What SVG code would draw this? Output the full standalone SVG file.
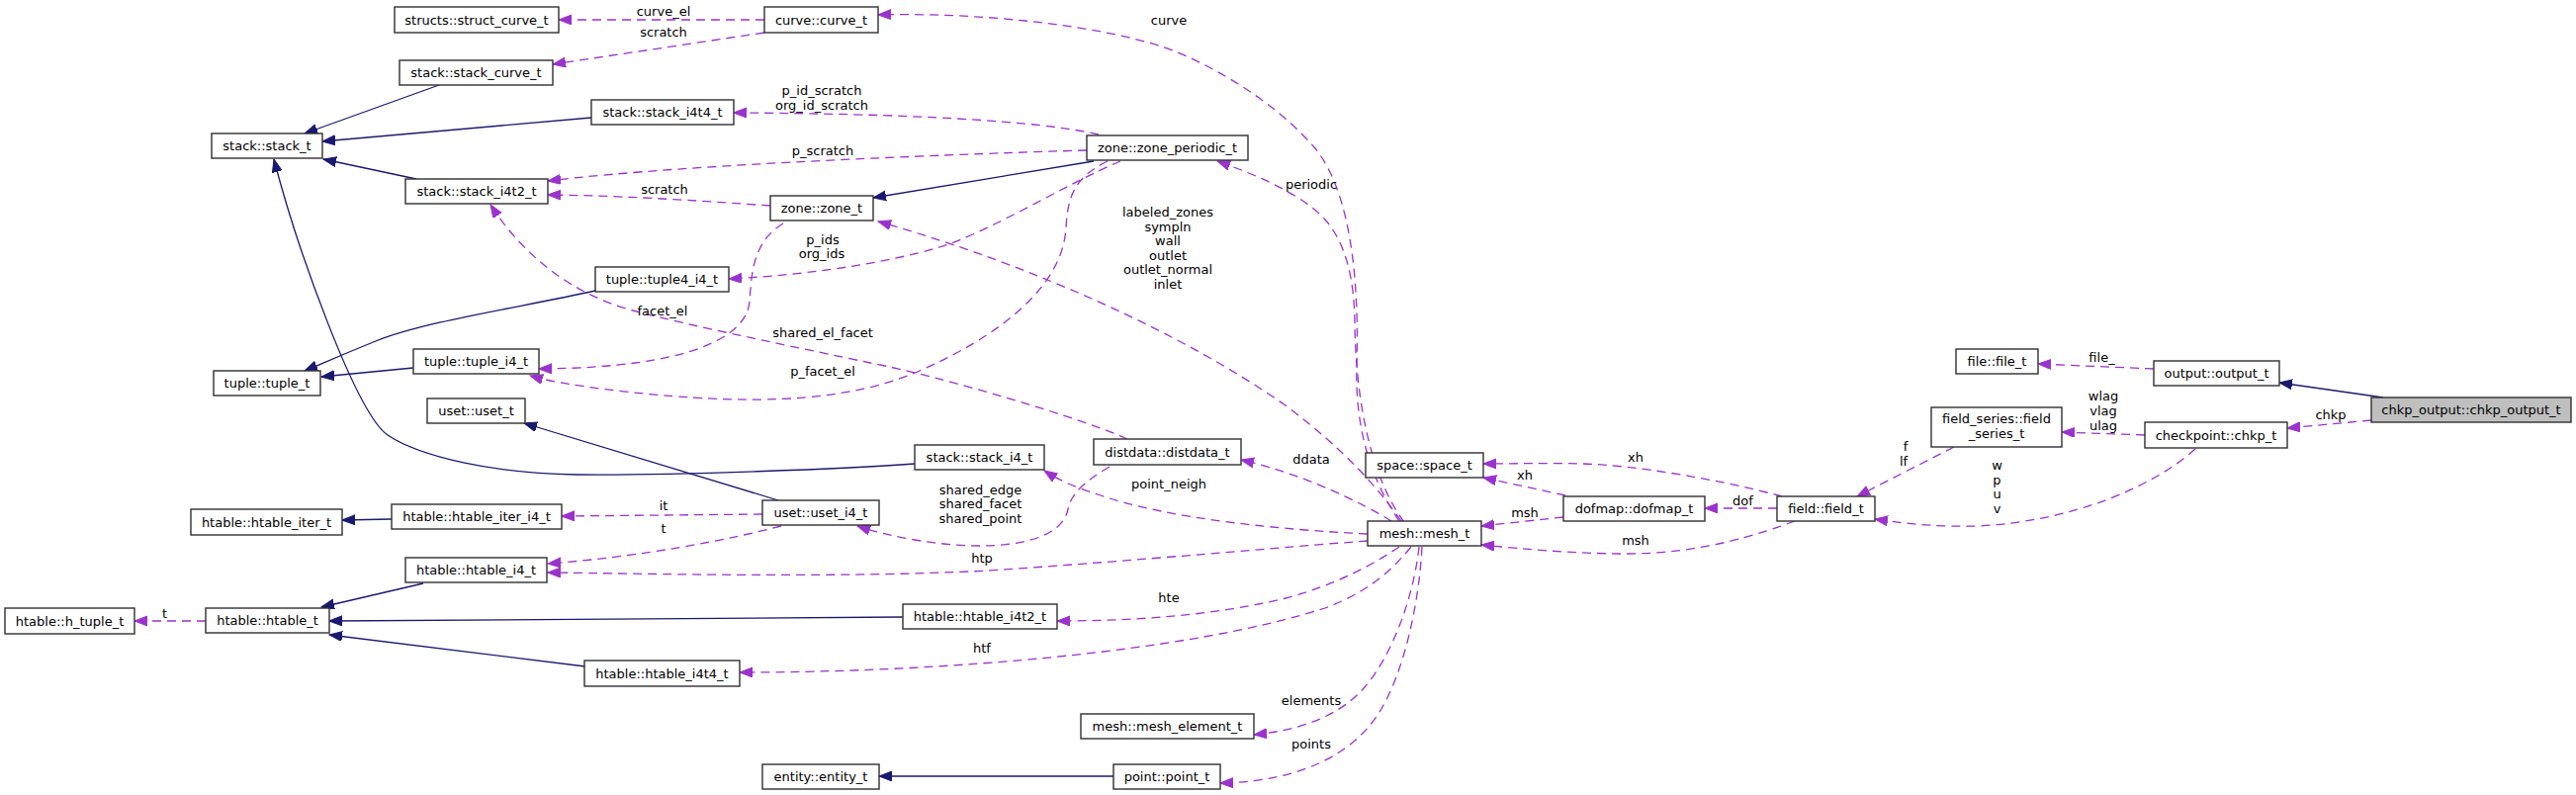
<svg xmlns="http://www.w3.org/2000/svg" width="2605" height="804" viewBox="0 0 2605 804">
<style>
.n rect{fill:#fff;stroke:#303030;stroke-width:1.4}
.root rect{fill:#bfbfbf}
text{font-family:"DejaVu Sans","Liberation Sans",sans-serif;font-size:13px;fill:#000;text-anchor:middle}
.s{fill:none;stroke:#191970;stroke-width:1.3;marker-end:url(#ab)}
.d{fill:none;stroke:#9a32cd;stroke-width:1.3;stroke-dasharray:9,6;marker-end:url(#ap)}
</style>
<defs>
<marker id="ab" markerWidth="14" markerHeight="11" refX="13" refY="5" orient="auto" markerUnits="userSpaceOnUse"><path d="M0,0 L13,5 L0,10 z" fill="#191970" stroke="#191970" stroke-width="1"/></marker>
<marker id="ap" markerWidth="14" markerHeight="11" refX="13" refY="5" orient="auto" markerUnits="userSpaceOnUse"><path d="M0,0 L13,5 L0,10 z" fill="#9a32cd" stroke="#9a32cd" stroke-width="1"/></marker>
</defs>
<rect width="2605" height="804" fill="#fff"/>
<g id="connectors">
<path class="s" d="M444,86 L308,135"/>
<path class="s" d="M598,119 L326,143"/>
<path class="s" d="M421,181 L327,161"/>
<path class="s" d="M925,469 C860,474 680,481 583,480 C500,479 425,462 392,440 C360,418 300,250 277,161"/>
<path class="s" d="M602,294 C520,312 430,325 380,345 C350,357 325,368 308,375"/>
<path class="s" d="M418,372 L325,381"/>
<path class="s" d="M787,506 L530,428"/>
<path class="s" d="M396,525 L346,526"/>
<path class="s" d="M428,590 L325,614"/>
<path class="s" d="M913,624 L333,628"/>
<path class="s" d="M592,674 L333,642"/>
<path class="s" d="M1106,163 L883,200"/>
<path class="s" d="M2410,402 L2305,387"/>
<path class="s" d="M1126,785 L889,785"/>

<path class="d" d="M773,20 L565,20"/>
<path class="d" d="M773,33 L559,65"/>
<path class="d" d="M1111,136 C1050,122 920,115 742,114"/>
<path class="d" d="M1099,152 C1000,155 700,165 554,183"/>
<path class="d" d="M779,208 C720,204 640,198 554,197"/>
<path class="d" d="M792,226 C760,245 760,280 758,305 C755,340 700,372 545,373"/>
<path class="d" d="M1133,163 C1080,185 1000,235 950,250 C900,265 820,278 737,282"/>
<path class="d" d="M1120,163 C1085,180 1080,200 1078,230 C1075,290 1010,340 930,375 C850,410 750,405 700,402 C650,399 570,390 536,380"/>
<path class="d" d="M1140,444 C1100,425 950,380 880,367 C800,350 700,330 640,314 C580,298 530,260 496,207"/>
<path class="d" d="M1417,527 C1395,495 1360,455 1300,410 C1200,340 1050,270 888,224"/>
<path class="d" d="M1420,528 C1395,495 1372,430 1370,330 C1370,280 1360,245 1340,222 C1320,200 1280,180 1231,163"/>
<path class="d" d="M1415,527 C1390,490 1370,440 1372,370 C1374,300 1370,200 1330,150 C1300,115 1250,78 1191,53 C1130,28 1000,12 888,15"/>
<path class="d" d="M1407,527 C1380,510 1320,480 1255,465"/>
<path class="d" d="M1383,540 C1300,536 1180,525 1110,500 C1085,492 1070,485 1056,476"/>
<path class="d" d="M1122,472 C1095,488 1083,500 1080,515 C1075,540 1040,552 990,552 C950,552 900,543 867,532"/>
<path class="d" d="M771,520 L568,522"/>
<path class="d" d="M790,532 C740,545 650,563 554,570"/>
<path class="d" d="M1383,547 C1300,553 1150,567 1000,577 C850,585 650,580 554,579"/>
<path class="d" d="M1415,553 C1390,570 1350,592 1300,605 C1230,622 1150,628 1069,628"/>
<path class="d" d="M1427,553 C1405,580 1380,600 1340,615 C1200,660 950,680 748,680"/>
<path class="d" d="M1435,553 C1430,600 1410,660 1380,695 C1350,730 1300,740 1268,743"/>
<path class="d" d="M1438,553 C1435,610 1420,680 1395,720 C1370,760 1320,790 1234,792"/>
<path class="d" d="M1581,523 L1498,532"/>
<path class="d" d="M1583,501 L1500,483"/>
<path class="d" d="M1802,502 C1740,485 1650,470 1600,469 C1560,468 1530,469 1500,469"/>
<path class="d" d="M1797,514 L1724,514"/>
<path class="d" d="M1815,527 C1780,540 1720,560 1645,560 C1590,560 1540,555 1498,551"/>
<path class="d" d="M1976,452 L1878,502"/>
<path class="d" d="M2169,440 L2085,437"/>
<path class="d" d="M2220,454 C2180,490 2100,527 2000,532 C1960,533 1930,530 1896,525"/>
<path class="d" d="M2178,373 L2061,368"/>
<path class="d" d="M2398,425 L2313,433"/>
<path class="d" d="M208,628 L136,628"/>

<text x="671" y="16">curve_el</text>
<text x="671" y="36.5">scratch</text>
<text x="1182" y="25">curve</text>
<text x="831" y="96">p_id_scratch</text>
<text x="831" y="111">org_id_scratch</text>
<text x="832" y="157">p_scratch</text>
<text x="672" y="196">scratch</text>
<text x="1326" y="191">periodic</text>
<text x="1181" y="219">labeled_zones</text>
<text x="1181" y="233.6">sympln</text>
<text x="1181" y="248.2">wall</text>
<text x="1181" y="262.8">outlet</text>
<text x="1181" y="277.4">outlet_normal</text>
<text x="1181" y="292">inlet</text>
<text x="832" y="247">p_ids</text>
<text x="831" y="261">org_ids</text>
<text x="670" y="318.5">facet_el</text>
<text x="832" y="341">shared_el_facet</text>
<text x="832" y="380">p_facet_el</text>
<text x="1326" y="469">ddata</text>
<text x="1182" y="493.5">point_neigh</text>
<text x="991.5" y="499.5">shared_edge</text>
<text x="991.5" y="514">shared_facet</text>
<text x="991.5" y="528.5">shared_point</text>
<text x="671" y="516">it</text>
<text x="671" y="539">t</text>
<text x="993" y="569">htp</text>
<text x="1182" y="608.5">hte</text>
<text x="993" y="659.5">htf</text>
<text x="1326" y="713">elements</text>
<text x="1326" y="757">points</text>
<text x="1542" y="523">msh</text>
<text x="1542" y="485">xh</text>
<text x="1654" y="467">xh</text>
<text x="1762.5" y="510.5">dof</text>
<text x="1654" y="551">msh</text>
<text x="1927" y="456">f</text>
<text x="1925" y="470.5">lf</text>
<text x="2127" y="405">wlag</text>
<text x="2127" y="420">vlag</text>
<text x="2127" y="435">ulag</text>
<text x="2019.5" y="475">w</text>
<text x="2019.5" y="489.5">p</text>
<text x="2019.5" y="504">u</text>
<text x="2019.5" y="519">v</text>
<text x="2125.5" y="366">file_</text>
<text x="2357" y="424">chkp</text>
<text x="166.5" y="624.5">t</text>
</g>

<g id="struct_curve" class="n"><rect x="399" y="7" width="166" height="26"/><text x="482" y="24.5">structs::struct_curve_t</text></g>
<g id="curve" class="n"><rect x="773" y="7" width="115" height="26"/><text x="830.5" y="24.5">curve::curve_t</text></g>
<g id="stack_curve" class="n"><rect x="404" y="61" width="155" height="25"/><text x="481.5" y="78">stack::stack_curve_t</text></g>
<g id="stack_i4t4" class="n"><rect x="598" y="101" width="144" height="25"/><text x="670" y="118">stack::stack_i4t4_t</text></g>
<g id="stack_t" class="n"><rect x="214" y="135" width="112" height="25"/><text x="270" y="152">stack::stack_t</text></g>
<g id="zone_periodic" class="n"><rect x="1099" y="137" width="163" height="25"/><text x="1180.5" y="154">zone::zone_periodic_t</text></g>
<g id="stack_i4t2" class="n"><rect x="410" y="181" width="144" height="25"/><text x="482" y="198">stack::stack_i4t2_t</text></g>
<g id="zone_t" class="n"><rect x="779" y="198" width="104" height="25"/><text x="831" y="215">zone::zone_t</text></g>
<g id="tuple4_i4" class="n"><rect x="602" y="270" width="135" height="25"/><text x="669.5" y="287">tuple::tuple4_i4_t</text></g>
<g id="tuple_i4" class="n"><rect x="418" y="353" width="127" height="25"/><text x="481.5" y="370">tuple::tuple_i4_t</text></g>
<g id="tuple_t" class="n"><rect x="216" y="375" width="108" height="25"/><text x="270" y="392">tuple::tuple_t</text></g>
<g id="uset_t" class="n"><rect x="432" y="403" width="99" height="25"/><text x="481.5" y="420">uset::uset_t</text></g>
<g id="stack_i4" class="n"><rect x="925" y="450" width="131" height="25"/><text x="990.5" y="467">stack::stack_i4_t</text></g>
<g id="distdata" class="n"><rect x="1106" y="444" width="149" height="26"/><text x="1180.5" y="461.5">distdata::distdata_t</text></g>
<g id="space" class="n"><rect x="1381" y="458" width="119" height="25"/><text x="1440.5" y="475">space::space_t</text></g>
<g id="file" class="n"><rect x="1978" y="353" width="83" height="25"/><text x="2019.5" y="370">file::file_t</text></g>
<g id="output" class="n"><rect x="2178" y="365" width="127" height="25"/><text x="2241.5" y="382">output::output_t</text></g>
<g id="chkp_output" class="n root"><rect x="2398" y="402" width="202" height="25"/><text x="2499" y="419">chkp_output::chkp_output_t</text></g>
<g id="field_series" class="n"><rect x="1953" y="412" width="132" height="40"/><text x="2019" y="428">field_series::field</text><text x="2019" y="443">_series_t</text></g>
<g id="chkp" class="n"><rect x="2169" y="427" width="144" height="26"/><text x="2241" y="444.5">checkpoint::chkp_t</text></g>
<g id="htable_iter" class="n"><rect x="193" y="515" width="153" height="26"/><text x="269.5" y="532.5">htable::htable_iter_t</text></g>
<g id="htable_iter_i4" class="n"><rect x="396" y="510" width="172" height="25"/><text x="482" y="527">htable::htable_iter_i4_t</text></g>
<g id="uset_i4" class="n"><rect x="771" y="506" width="118" height="25"/><text x="830" y="523">uset::uset_i4_t</text></g>
<g id="dofmap" class="n"><rect x="1581" y="502" width="143" height="25"/><text x="1652.5" y="519">dofmap::dofmap_t</text></g>
<g id="field" class="n"><rect x="1797" y="502" width="99" height="25"/><text x="1846.5" y="519">field::field_t</text></g>
<g id="mesh" class="n"><rect x="1383" y="527" width="115" height="25"/><text x="1440.5" y="544">mesh::mesh_t</text></g>
<g id="htable_i4" class="n"><rect x="410" y="564" width="143" height="25"/><text x="481.5" y="581">htable::htable_i4_t</text></g>
<g id="h_tuple" class="n"><rect x="5" y="615" width="131" height="26"/><text x="70.5" y="632.5">htable::h_tuple_t</text></g>
<g id="htable_t" class="n"><rect x="208" y="615" width="125" height="25"/><text x="270.5" y="632">htable::htable_t</text></g>
<g id="htable_i4t2" class="n"><rect x="913" y="611" width="156" height="25"/><text x="991" y="628">htable::htable_i4t2_t</text></g>
<g id="htable_i4t4" class="n"><rect x="591" y="668" width="157" height="26"/><text x="669.5" y="685.5">htable::htable_i4t4_t</text></g>
<g id="mesh_element" class="n"><rect x="1093" y="722" width="175" height="25"/><text x="1180.5" y="739">mesh::mesh_element_t</text></g>
<g id="entity" class="n"><rect x="771" y="773" width="118" height="25"/><text x="830" y="790">entity::entity_t</text></g>
<g id="point" class="n"><rect x="1126" y="773" width="108" height="25"/><text x="1180" y="790">point::point_t</text></g>
</svg>
